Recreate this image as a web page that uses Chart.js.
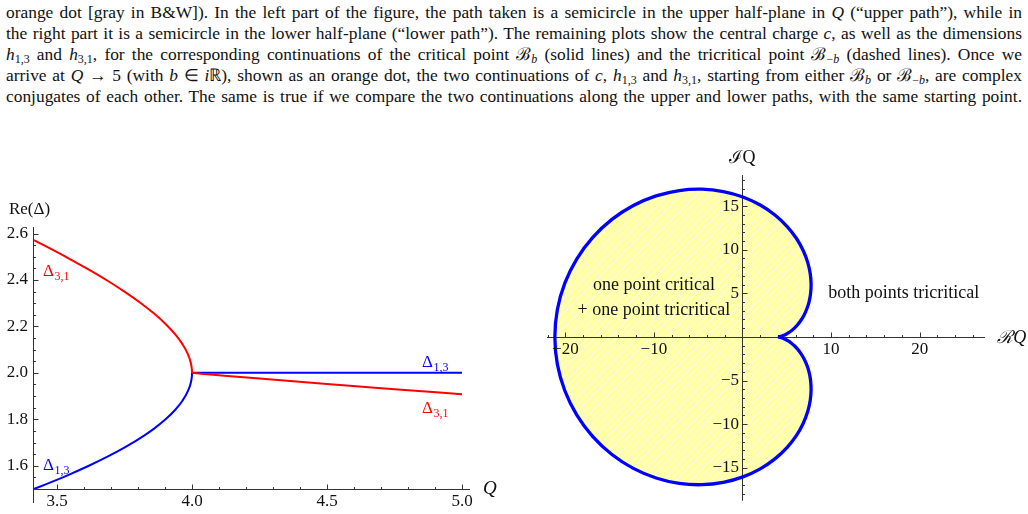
<!DOCTYPE html>
<html>
<head>
<meta charset="utf-8">
<script src="https://cdn.jsdelivr.net/npm/chart.js@4.4.1/dist/chart.umd.min.js"></script>
<style>
  html, body { margin: 0; padding: 0; background: #fff; }
  body { width: 1028px; height: 514px; position: relative; overflow: hidden;
         font-family: 'Liberation Serif', 'Times New Roman', serif; color: #111; }
  .ln { position: absolute; left: 6px; width: 1016px; font-size: 17.4px; line-height: 21px;
        word-spacing: -1.2px; text-align: justify; text-align-last: justify; }
  .ln sub { font-size: 12px; line-height: 0; vertical-align: -3px; }
  canvas { position: absolute; }
  #left { left: 0; top: 190px; }
  #right { left: 520px; top: 140px; }
</style>
</head>
<body>
<div class="ln" style="top:2px">orange dot [gray in B&amp;W]). In the left part of the figure, the path taken is a semicircle in the upper half-plane in <i>Q</i> (“upper path”), while in</div>
<div class="ln" style="top:23px">the right part it is a semicircle in the lower half-plane (“lower path”). The remaining plots show the central charge <i>c</i>, as well as the dimensions</div>
<div class="ln" style="top:44px"><i>h</i><sub>1,3</sub> and <i>h</i><sub>3,1</sub>, for the corresponding continuations of the critical point ℬ<sub><i>b</i></sub> (solid lines) and the tricritical point ℬ<sub>−<i>b</i></sub> (dashed lines). Once we</div>
<div class="ln" style="top:65px">arrive at <i>Q</i> → 5 (with <i>b</i> ∈ <i>i</i>ℝ), shown as an orange dot, the two continuations of <i>c</i>, <i>h</i><sub>1,3</sub> and <i>h</i><sub>3,1</sub>, starting from either ℬ<sub><i>b</i></sub> or ℬ<sub>−<i>b</i></sub>, are complex</div>
<div class="ln" style="top:86px">conjugates of each other. The same is true if we compare the two continuations along the upper and lower paths, with the same starting point.</div>

<canvas id="left" width="510" height="324"></canvas>
<canvas id="right" width="508" height="374"></canvas>

<script>
// --- left panel: Re(Δ) against Q ---
const qValues = [3.4142, 3.4579, 3.5410, 3.6180, 3.6887, 3.7526, 3.8097, 3.8596, 3.9021, 3.9372, 3.9646,
                 3.9842, 3.9961, 3.9990, 3.9998, 4.0, 4.1, 4.25, 4.5, 4.75, 5.0];
const delta31 = [2.5714, 2.5455, 2.4944, 2.4444, 2.3956, 2.3478, 2.3011, 2.2553, 2.2105, 2.1667, 2.1237,
                 2.0816, 2.0404, 2.0201, 2.0100, 2.0, 1.9900, 1.9753, 1.9519, 1.9296, 1.9083];
const delta13 = [1.50, 1.52, 1.56, 1.60, 1.64, 1.68, 1.72, 1.76, 1.80, 1.84, 1.88,
                 1.92, 1.96, 1.98, 1.99, 2.0, 2.0, 2.0, 2.0, 2.0, 2.0];
const leftXTicks = [3.5, 4.0, 4.5, 5.0];
const leftYTicks = [1.6, 1.8, 2.0, 2.2, 2.4, 2.6];

// --- right panel: boundary in the complex Q plane (upper half, cusp -> leftmost point) ---
const boundaryRe = [4.000, 4.019, 4.075, 4.170, 4.302, 4.474, 4.683, 4.930, 5.211, 5.525, 5.864, 6.220,
                    6.580, 6.930, 7.248, 7.510, 7.687, 7.746, 7.651, 7.364, 6.851, 6.079, 5.021, 3.662,
                    2.000, 0.047, -2.164, -4.583, -7.142, -9.755, -12.322, -14.739, -16.899, -18.700,
                    -20.056, -20.898, -21.184];
const boundaryIm = [0.000, 0.001, 0.007, 0.023, 0.055, 0.109, 0.194, 0.316, 0.487, 0.717, 1.017, 1.401,
                    1.881, 2.468, 3.173, 4.003, 4.963, 6.049, 7.250, 8.550, 9.917, 11.313, 12.688, 13.981,
                    15.125, 16.048, 16.677, 16.944, 16.791, 16.173, 15.069, 13.477, 11.424, 8.963,
                    6.171, 3.146, 0.000];
const rightXTicks = [-20, -10, 10, 20];
const rightYTicks = [-15, -10, -5, 5, 10, 15];

const serif = "'Liberation Serif', 'Times New Roman', serif";
Chart.defaults.font.family = serif;
Chart.defaults.color = '#111';

function stepTicks(scale, step) {
  const ticks = [];
  const first = Math.ceil(scale.min / step - 1e-9);
  const last = Math.floor(scale.max / step + 1e-9);
  for (let k = first; k <= last; k++) ticks.push({ value: +(k * step).toFixed(6) });
  scale.ticks = ticks;
}
const isMajor = (v, majors) => majors.some(m => Math.abs(m - v) < 1e-6);
const fmtInt = v => (v < 0 ? '\u2212' + Math.abs(v) : String(v));
const noGrid = { display: false, drawTicks: false };

// Mathematica style axes: lines through the origin, ticks pointing inward
const mathAxes = {
  id: 'mathAxes',
  beforeDatasetsDraw(chart, args, o) {
    const { ctx, chartArea: a, scales: { x, y } } = chart;
    const px0 = Math.round(x.getPixelForValue(o.originX)) + 0.5;
    const py0 = Math.round(y.getPixelForValue(o.originY)) + 0.5;
    ctx.save();
    ctx.strokeStyle = '#333';
    ctx.lineWidth = 1;
    ctx.beginPath();
    ctx.moveTo(a.left, py0); ctx.lineTo(a.right, py0);
    ctx.moveTo(px0, a.top); ctx.lineTo(px0, a.bottom + (o.extendY || 0));
    for (const t of x.ticks) {
      if (Math.abs(t.value - o.originX) < 1e-9) continue;
      const p = Math.round(x.getPixelForValue(t.value)) + 0.5;
      ctx.moveTo(p, py0); ctx.lineTo(p, py0 - (t.label ? 5 : 2.5));
    }
    for (const t of y.ticks) {
      if (Math.abs(t.value - o.originY) < 1e-9) continue;
      const p = Math.round(y.getPixelForValue(t.value)) + 0.5;
      ctx.moveTo(px0, p); ctx.lineTo(px0 + (t.label ? 5 : 2.5), p);
    }
    ctx.stroke();
    ctx.restore();
  }
};

// text placed at data coordinates, optional subscript
const textLabels = {
  id: 'textLabels',
  afterDraw(chart, args, o) {
    const { ctx, scales: { x, y } } = chart;
    ctx.save();
    ctx.textBaseline = 'alphabetic';
    for (const it of o.items) {
      const px = x.getPixelForValue(it.x), py = y.getPixelForValue(it.y);
      ctx.fillStyle = it.color || '#111';
      ctx.textAlign = it.align || 'left';
      ctx.font = (it.italic ? 'italic ' : '') + it.size + 'px ' + serif;
      ctx.fillText(it.text, px, py);
      if (it.sub) {
        const w = ctx.measureText(it.text).width;
        ctx.font = Math.round(it.size * 0.68) + 'px ' + serif;
        ctx.textAlign = 'left';
        ctx.fillText(it.sub, px + w + 0.5, py + 4);
      }
    }
    ctx.restore();
  }
};

function hatch() {
  const c = document.createElement('canvas');
  c.width = c.height = 7;
  const g = c.getContext('2d');
  g.fillStyle = '#ffffaa';
  g.fillRect(0, 0, 7, 7);
  g.strokeStyle = 'rgba(255,255,255,0.55)';
  g.lineWidth = 1;
  g.beginPath();
  g.moveTo(-1, 8); g.lineTo(8, -1);
  g.stroke();
  return g.createPattern(c, 'repeat');
}

// the branches meet with a corner at Q = 4, so draw each side separately
const iQ4 = qValues.indexOf(4.0);
function branch(ys, from, to, color) {
  return { data: qValues.slice(from, to).map((q, i) => ({ x: q, y: ys[from + i] })),
           showLine: true, pointRadius: 0, borderColor: color, borderWidth: 2,
           cubicInterpolationMode: 'monotone' };
}

new Chart(document.getElementById('left'), {
  type: 'scatter',
  data: {
    datasets: [
      branch(delta31, 0, iQ4 + 1, '#ff0000'),
      branch(delta31, iQ4, qValues.length, '#ff0000'),
      branch(delta13, 0, iQ4 + 1, '#0000ff'),
      branch(delta13, iQ4, qValues.length, '#0000ff'),
    ]
  },
  options: {
    responsive: false, animation: false, events: [],
    layout: { padding: { top: 37, right: 40, bottom: 0, left: 0 } },
    plugins: {
      legend: { display: false }, tooltip: { enabled: false },
      mathAxes: { originX: 3.4111, originY: 1.5, extendY: 14 },
      textLabels: { items: [
        { text: 'Re(Δ)', x: 3.322, y: 2.684, size: 17 },
        { text: 'Q', x: 5.078, y: 1.478, size: 19, italic: true },
        { text: 'Δ', sub: '3,1', x: 3.448, y: 2.417, size: 17, color: '#ff0000' },
        { text: 'Δ', sub: '1,3', x: 3.448, y: 1.583, size: 17, color: '#0000ff' },
        { text: 'Δ', sub: '1,3', x: 4.852, y: 2.026, size: 17, color: '#0000ff' },
        { text: 'Δ', sub: '3,1', x: 4.852, y: 1.828, size: 17, color: '#ff0000' },
      ] }
    },
    scales: {
      x: { type: 'linear', min: 3.4111, max: 5.0296,
           grid: noGrid, border: { display: false },
           afterBuildTicks: s => stepTicks(s, 0.1),
           afterFit: s => { s.height = 25; },
           ticks: { autoSkip: false, maxRotation: 0, padding: 2, font: { size: 17 },
                    callback: v => (isMajor(v, leftXTicks) ? v.toFixed(1) : '') } },
      y: { type: 'linear', min: 1.5, max: 2.628,
           grid: noGrid, border: { display: false },
           afterBuildTicks: s => stepTicks(s, 0.05),
           afterFit: s => { s.width = 33; },
           ticks: { autoSkip: false, padding: 5, font: { size: 17 },
                    callback: v => (isMajor(v, leftYTicks) ? v.toFixed(1) : '') } }
    }
  },
  plugins: [mathAxes, textLabels]
});

const upper = boundaryRe.map((re, i) => ({ x: re, y: boundaryIm[i] }));
const lower = upper.slice(0, -1).reverse().map(p => ({ x: p.x, y: -p.y }));

new Chart(document.getElementById('right'), {
  type: 'scatter',
  data: {
    datasets: [
      { data: upper.concat(lower), showLine: true, pointRadius: 0, tension: 0.3,
        borderColor: '#0000ff', borderWidth: 3.3, fill: 'shape', backgroundColor: hatch() }
    ]
  },
  options: {
    responsive: false, animation: false, events: [],
    layout: { padding: { left: 27, right: 43, top: 35, bottom: 7 } },
    plugins: {
      legend: { display: false }, tooltip: { enabled: false },
      filler: { drawTime: 'beforeDatasetsDraw' },
      mathAxes: { originX: 0, originY: 0 },
      textLabels: { items: [
        { text: 'ℐQ', x: 0, y: 19.9, size: 18, align: 'center' },
        { text: 'ℛQ', x: 28.77, y: -0.68, size: 18, italic: true },
        { text: 'one point critical', x: -10.0, y: 5.40, size: 18, align: 'center' },
        { text: '+ one point tricritical', x: -10.0, y: 2.48, size: 18, align: 'center' },
        { text: 'both points tricritical', x: 9.69, y: 4.50, size: 18 },
      ] }
    },
    scales: {
      x: { type: 'linear', position: { y: 0 }, min: -22.07, max: 27.38,
           grid: noGrid, border: { display: false },
           afterBuildTicks: s => stepTicks(s, 2),
           ticks: { autoSkip: false, maxRotation: 0, padding: 2, z: 1, font: { size: 17 },
                    callback: v => (isMajor(v, rightXTicks) ? fmtInt(v) : '') } },
      y: { type: 'linear', position: { x: 0 }, min: -18.79, max: 18.57,
           grid: noGrid, border: { display: false },
           afterBuildTicks: s => stepTicks(s, 1),
           ticks: { autoSkip: false, padding: 3, z: 1, font: { size: 17 },
                    callback: v => (isMajor(v, rightYTicks) ? fmtInt(v) + '\u2009' : '') } }
    }
  },
  plugins: [mathAxes, textLabels]
});
</script>
</body>
</html>
